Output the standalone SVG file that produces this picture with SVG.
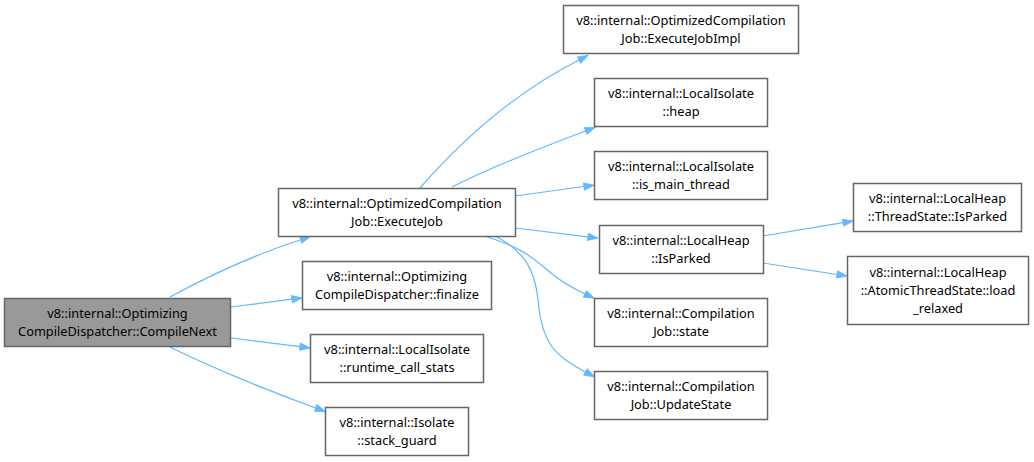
<svg xmlns="http://www.w3.org/2000/svg" width="1034" height="462" viewBox="0 0 1034 462">
<style>
.n rect{fill:#ffffff;stroke:#666666;stroke-width:1.5}
.n.g rect{fill:#999999}
.n text{font-family:"Noto Sans","DejaVu Sans",sans-serif;font-size:12.8px;fill:#000000;text-anchor:middle}
.e path{fill:none;stroke:#63b8ff;stroke-width:1.2}
</style>
<defs>
<marker id="ah" markerUnits="userSpaceOnUse" markerWidth="12" markerHeight="10" refX="0" refY="4" orient="auto" viewBox="0 0 12 8" overflow="visible">
<path d="M0,0.5 L10,4 L0,7.5 z" fill="#63b8ff" stroke="#63b8ff" stroke-width="1"/>
</marker>
</defs>
<rect width="1034" height="462" fill="#ffffff"/>
<g id="edges" class="e">
<path marker-end="url(#ah)" d="M170,297 C205,278 250,256 300.7,239.7"/>
<path marker-end="url(#ah)" d="M231,307 L292,299.2"/>
<path marker-end="url(#ah)" d="M231,338 L300,346.7"/>
<path marker-end="url(#ah)" d="M170,347 C200,362 260,388 315.8,408"/>
<path marker-end="url(#ah)" d="M420,188 C455,148 510,95 579,60"/>
<path marker-end="url(#ah)" d="M452,187 C490,168 540,148 585.7,131"/>
<path marker-end="url(#ah)" d="M515,196 L584,186.5"/>
<path marker-end="url(#ah)" d="M515,228 L588,236.8"/>
<path marker-end="url(#ah)" d="M487,237 C515,245 530,255 545,268 C558,280 570,287 585,294"/>
<path marker-end="url(#ah)" d="M497,237 C525,252 535,270 538,300 C542,345 555,355 585.5,372"/>
<path marker-end="url(#ah)" d="M763,236 L843.1,222.6"/>
<path marker-end="url(#ah)" d="M763,263 L837.1,274.5"/>
</g>
<g id="node_compilenext" class="n g"><rect x="4.5" y="298.5" width="226" height="48"/><text x="117.5" y="317.5">v8::internal::Optimizing</text><text x="117.5" y="335.5">CompileDispatcher::CompileNext</text></g>
<g id="node_executejob" class="n"><rect x="278.5" y="188.5" width="237" height="48"/><text x="397" y="207.5">v8::internal::OptimizedCompilation</text><text x="397" y="225.5">Job::ExecuteJob</text></g>
<g id="node_finalize" class="n"><rect x="302.5" y="261.5" width="189" height="48"/><text x="397" y="280.5">v8::internal::Optimizing</text><text x="397" y="298.5">CompileDispatcher::finalize</text></g>
<g id="node_runtime_call_stats" class="n"><rect x="310.5" y="334.5" width="173" height="48"/><text x="397" y="353.5">v8::internal::LocalIsolate</text><text x="397" y="371.5">::runtime_call_stats</text></g>
<g id="node_stack_guard" class="n"><rect x="325.5" y="407.5" width="143" height="48"/><text x="397" y="426.5">v8::internal::Isolate</text><text x="397" y="444.5">::stack_guard</text></g>
<g id="node_executejobimpl" class="n"><rect x="563.5" y="5.5" width="235" height="48"/><text x="681" y="24.5">v8::internal::OptimizedCompilation</text><text x="681" y="42.5">Job::ExecuteJobImpl</text></g>
<g id="node_heap" class="n"><rect x="594.5" y="78.5" width="173" height="48"/><text x="681" y="97.5">v8::internal::LocalIsolate</text><text x="681" y="115.5">::heap</text></g>
<g id="node_is_main_thread" class="n"><rect x="594.5" y="151.5" width="173" height="48"/><text x="681" y="170.5">v8::internal::LocalIsolate</text><text x="681" y="188.5">::is_main_thread</text></g>
<g id="node_isparked" class="n"><rect x="599.5" y="225.5" width="164" height="48"/><text x="681" y="244.5">v8::internal::LocalHeap</text><text x="681" y="262.5">::IsParked</text></g>
<g id="node_state" class="n"><rect x="594.5" y="298.5" width="173" height="48"/><text x="681" y="317.5">v8::internal::Compilation</text><text x="681" y="335.5">Job::state</text></g>
<g id="node_updatestate" class="n"><rect x="594.5" y="371.5" width="173" height="48"/><text x="681" y="390.5">v8::internal::Compilation</text><text x="681" y="408.5">Job::UpdateState</text></g>
<g id="node_threadstate_isparked" class="n"><rect x="853.5" y="183.5" width="168" height="48"/><text x="937.5" y="202.5">v8::internal::LocalHeap</text><text x="937.5" y="220.5">::ThreadState::IsParked</text></g>
<g id="node_load_relaxed" class="n"><rect x="847.5" y="256.5" width="181" height="68"/><text x="938" y="277">v8::internal::LocalHeap</text><text x="938" y="295">::AtomicThreadState::load</text><text x="938" y="313">_relaxed</text></g>
</svg>
